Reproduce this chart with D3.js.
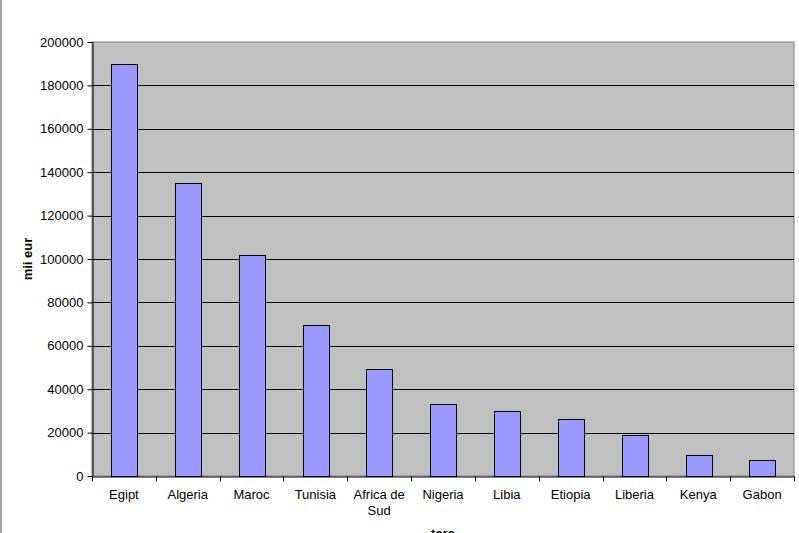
<!DOCTYPE html>
<html><head><meta charset="utf-8">
<script src="https://cdn.jsdelivr.net/npm/d3@7"></script>
<style>
html,body{margin:0;padding:0;background:#fff;overflow:hidden}
svg{display:block;font-family:"Liberation Sans",Arial,sans-serif}
</style></head>
<body>
<svg id="c" width="799" height="533"></svg>
<script>
const categories = ["Egipt","Algeria","Maroc","Tunisia","Africa de Sud","Nigeria","Libia","Etiopia","Liberia","Kenya","Gabon"];
const values = [190000,135000,102000,69500,49300,33000,30000,26300,18900,9700,7400];
const yTicks = [0,20000,40000,60000,80000,100000,120000,140000,160000,180000,200000];
const yTitle = "mii eur";
const xTitle = "tara";

const svg = d3.select("#c");
const L = 92, R = 794, T = 42, B = 476;

// left outer border
svg.append("line").attr("x1",1).attr("x2",1).attr("y1",0).attr("y2",533)
  .attr("stroke","#a0a0a8").attr("stroke-width",2);

const x = d3.scaleBand().domain(categories).range([L,R]).paddingInner(0).paddingOuter(0);
const y = d3.scaleLinear().domain([0,200000]).range([B,T]);

svg.append("rect").attr("x",L).attr("y",T).attr("width",R-L).attr("height",B-T)
  .attr("fill","#c0c0c0").attr("stroke","#808080").attr("stroke-width",1);

// gridlines
svg.append("g").selectAll("line").data(yTicks.filter(d=>d>0 && d<200000)).join("line")
  .attr("x1",L).attr("x2",R).attr("y1",d=>Math.round(y(d))+0.5).attr("y2",d=>Math.round(y(d))+0.5)
  .attr("stroke","#000").attr("stroke-width",1);

// bars
const bw = x.bandwidth()/2.5;
svg.append("g").selectAll("rect").data(values).join("rect")
  .attr("x",(d,i)=>Math.round(x(categories[i])+x.bandwidth()/2-bw/2)+0.5)
  .attr("y",d=>Math.round(y(d))+0.5)
  .attr("width",Math.round(bw))
  .attr("height",d=>Math.round(B-y(d)))
  .attr("fill","#9999ff").attr("stroke","#000").attr("stroke-width",1);

// y axis
const ya = svg.append("g").attr("transform",`translate(${L+0.5},0)`)
  .call(d3.axisLeft(y).tickValues(yTicks).tickFormat(d=>String(d)).tickSizeInner(5).tickSizeOuter(0).tickPadding(4));
ya.select(".domain").attr("stroke","#000");
ya.selectAll(".tick line").attr("stroke","#000");
ya.selectAll("text").attr("font-size",13).attr("fill","#000").attr("font-family","Liberation Sans, Arial, sans-serif");

// x axis
const xa = svg.append("g").attr("transform",`translate(0,${B+0.5})`)
  .call(d3.axisBottom(x).tickSize(0).tickPadding(13));
xa.select(".domain").attr("stroke","#000");
xa.selectAll("text").attr("font-size",13).attr("fill","#000").attr("font-family","Liberation Sans, Arial, sans-serif");
// category boundary ticks
const bounds = categories.map(c=>x(c)).concat([R]);
xa.append("g").selectAll("line").data(bounds).join("line")
  .attr("x1",d=>Math.round(d)+0.5).attr("x2",d=>Math.round(d)+0.5).attr("y1",0).attr("y2",5)
  .attr("stroke","#000");
// wrap "Africa de Sud"
xa.selectAll(".tick text").each(function(d){
  if(d==="Africa de Sud"){
    const t=d3.select(this); t.text(null);
    t.append("tspan").attr("x",0).attr("dy","0.71em").text("Africa de");
    t.append("tspan").attr("x",0).attr("dy","1.25em").text("Sud");
    t.attr("dy",null);
  }
});

svg.append("text").attr("transform",`translate(32,${(T+B)/2}) rotate(-90)`)
  .attr("text-anchor","middle").attr("font-size",13).attr("font-weight","bold").text(yTitle);
svg.append("text").attr("x",(L+R)/2).attr("y",538).attr("text-anchor","middle")
  .attr("font-size",13).attr("font-weight","bold").text(xTitle);
</script>
</body></html>
